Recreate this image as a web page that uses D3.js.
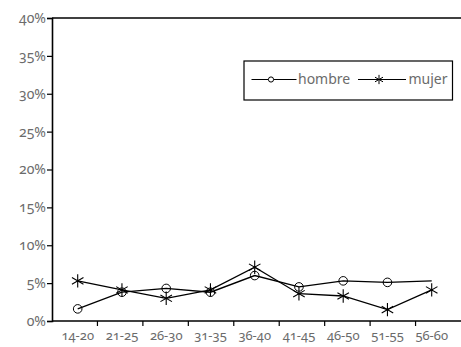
<!DOCTYPE html>
<html><head><meta charset="utf-8">
<script src="https://cdn.jsdelivr.net/npm/d3@7"></script>
<style>
html,body{margin:0;padding:0;background:#fff;}
svg{display:block;}
text{font-family:"Noto Sans","Open Sans",sans-serif;fill:#6b6b6b;font-variant-numeric:oldstyle-nums;}
</style></head>
<body><svg id="c" width="461" height="347"></svg>
<script>
const categories = ["14-20","21-25","26-30","31-35","36-40","41-45","46-50","51-55","56-60"];
const hombre = [1.6, 3.8, 4.3, 3.8, 6.0, 4.5, 5.3, 5.1, 5.3];
const mujer  = [5.3, 4.1, 3.0, 4.1, 7.1, 3.6, 3.3, 1.5, 4.1];
const hombreMarker = [true,true,true,true,true,true,true,true,false];
const yTicks = [0,5,10,15,20,25,30,35,40];
const seriesNames = ["hombre","mujer"];

const svg = d3.select("#c");
const L = 52, R = 461, T = 18, B = 321;

const y = d3.scaleLinear().domain([0,40]).range([B,T]);
const x = d3.scalePoint().domain(categories).range([77.7,431.7]);
const xBand = d3.scaleBand().domain(categories).range([L,R]);

svg.append("line").attr("x1",L).attr("x2",R).attr("y1",T).attr("y2",T)
  .attr("stroke","#000").attr("stroke-width",1.6);

const yAxis = d3.axisLeft(y).tickValues(yTicks).tickSize(5).tickPadding(1)
  .tickFormat(d => d + "%");
const gy = svg.append("g").attr("transform",`translate(${L},0)`).call(yAxis);
gy.select(".domain").attr("stroke","#000").attr("stroke-width",1.6);
gy.selectAll(".tick line").attr("stroke","#000").attr("stroke-width",1.2);
gy.selectAll(".tick text").attr("font-size",14).attr("fill","#6b6b6b");

svg.append("line").attr("x1",L).attr("x2",R).attr("y1",B).attr("y2",B)
  .attr("stroke","#000").attr("stroke-width",1.6);
svg.append("g").selectAll("line").data(categories.slice(1)).join("line")
  .attr("x1",d=>xBand(d)).attr("x2",d=>xBand(d))
  .attr("y1",B).attr("y2",B+5).attr("stroke","#000").attr("stroke-width",1.2);
svg.append("g").selectAll("text").data(categories).join("text")
  .attr("x",d=>x(d)).attr("y",340).attr("text-anchor","middle")
  .attr("font-size",13).text(d=>d);

const line = d3.line().x((d,i)=>x(categories[i])).y(d=>y(d));

svg.append("path").datum(hombre).attr("d",line).attr("fill","none")
  .attr("stroke","#000").attr("stroke-width",1.3);
svg.append("path").datum(mujer).attr("d",line).attr("fill","none")
  .attr("stroke","#000").attr("stroke-width",1.3);

svg.append("g").selectAll("circle").data(hombre.map((v,i)=>({v,i})).filter(d=>hombreMarker[d.i])).join("circle")
  .attr("cx",d=>x(categories[d.i])).attr("cy",d=>y(d.v)).attr("r",4.3)
  .attr("fill","none").attr("stroke","#000").attr("stroke-width",1);

const ast = d3.symbol().type(d3.symbolAsterisk).size(125);
svg.append("g").selectAll("path").data(mujer).join("path")
  .attr("transform",(d,i)=>`translate(${x(categories[i])},${y(d)})`)
  .attr("d",ast).attr("fill","none").attr("stroke","#000").attr("stroke-width",1.1);

const lg = svg.append("g");
lg.append("rect").attr("x",244).attr("y",61).attr("width",208.5).attr("height",39)
  .attr("fill","#fff").attr("stroke","#000").attr("stroke-width",1.2);
lg.append("line").attr("x1",251.5).attr("x2",296.5).attr("y1",79.5).attr("y2",79.5)
  .attr("stroke","#000").attr("stroke-width",1.2);
lg.append("circle").attr("cx",271).attr("cy",79.5).attr("r",2.6)
  .attr("fill","#fff").attr("stroke","#000").attr("stroke-width",1);
lg.append("text").attr("x",298).attr("y",84).attr("font-size",14).text(seriesNames[0]);
lg.append("line").attr("x1",358).attr("x2",406).attr("y1",79.5).attr("y2",79.5)
  .attr("stroke","#000").attr("stroke-width",1.2);
lg.append("path").attr("transform","translate(379,79.5)")
  .attr("d",d3.symbol().type(d3.symbolAsterisk).size(60)())
  .attr("fill","none").attr("stroke","#000").attr("stroke-width",1);
lg.append("text").attr("x",408.5).attr("y",84).attr("font-size",14).text(seriesNames[1]);
</script></body></html>
